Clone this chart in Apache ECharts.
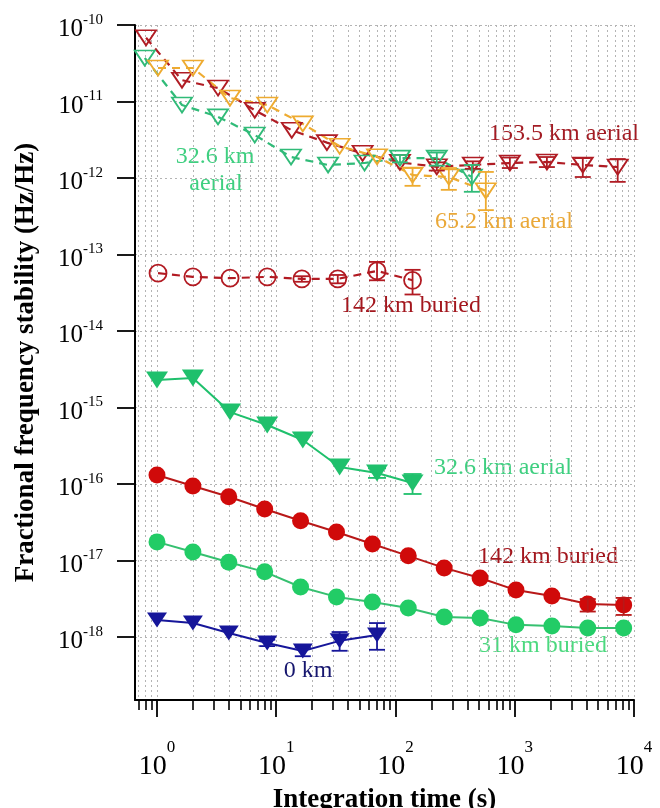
<!DOCTYPE html>
<html><head><meta charset="utf-8">
<script src="https://cdn.jsdelivr.net/npm/echarts@6/dist/echarts.min.js"></script>
<style>html,body{margin:0;padding:0;background:#fff}#c{width:660px;height:808px}</style>
</head><body><div id="c"></div>
<script>
// ---- axis ticks ----
const yTicks = [1e-18, 1e-17, 1e-16, 1e-15, 1e-14, 1e-13, 1e-12, 1e-11, 1e-10];
const xTicks = [1, 10, 100, 1000, 10000];
const xMinorTicks = [0.7, 0.8, 0.9, 2, 3, 4, 5, 6, 7, 8, 9, 20, 30, 40, 50, 60, 70, 80, 90,
  200, 300, 400, 500, 600, 700, 800, 900, 2000, 3000, 4000, 5000, 6000, 7000, 8000, 9000];

// ---- 153.5 km aerial (open red triangles, dashed) ----
const tauAer153 = [0.81, 1.62, 3.25, 6.6, 13.5, 26.6, 53, 109, 222, 445, 910, 1860, 3720, 7300];
const valAer153 = [6.8e-11, 1.9e-11, 1.5e-11, 7.7e-12, 4.2e-12, 2.9e-12, 2.1e-12, 1.6e-12, 1.4e-12, 1.48e-12, 1.57e-12, 1.62e-12, 1.48e-12, 1.39e-12];
const errAer153 = [[222, 1.6e-12, 1.25e-12], [445, 1.65e-12, 1.32e-12], [910, 1.85e-12, 1.35e-12], [1860, 1.88e-12, 1.39e-12], [3720, 1.82e-12, 1.03e-12], [7300, 1.77e-12, 8.9e-13]];

// ---- 32.6 km aerial (open green triangles, dashed) ----
const tauAer32 = [0.79, 1.62, 3.25, 6.6, 13.3, 27.2, 55, 109, 222, 437];
const valAer32 = [3.7e-11, 9.0e-12, 6.3e-12, 3.65e-12, 1.88e-12, 1.48e-12, 1.57e-12, 1.82e-12, 1.82e-12, 1.03e-12];
const errAer32 = [[109, 2.0e-12, 1.6e-12], [222, 2.15e-12, 1.45e-12], [437, 1.48e-12, 6.6e-13]];

// ---- 65.2 km aerial (open orange triangles, dashed) ----
const tauAer65 = [1.02, 2.0, 4.1, 8.4, 16.7, 34, 70, 139, 280, 572];
const valAer65 = [2.74e-11, 2.74e-11, 1.11e-11, 9.0e-12, 5.1e-12, 2.6e-12, 1.9e-12, 1.09e-12, 1.03e-12, 6.8e-13];
const errAer65 = [[139, 1.35e-12, 7.9e-13], [280, 1.35e-12, 7.0e-13], [572, 1.2e-12, 3.8e-13]];

// ---- 142 km buried, other link (open red circles, dashed) ----
const tauBur142o = [1.02, 2.0, 4.1, 8.4, 16.4, 32.8, 70, 139];
const valBur142o = [5.7e-14, 5.1e-14, 4.9e-14, 5.1e-14, 4.8e-14, 4.8e-14, 6.1e-14, 4.6e-14];
const errBur142o = [[16.4, 5.2e-14, 4.4e-14], [32.8, 5.4e-14, 4.2e-14], [70, 8.0e-14, 4.6e-14], [139, 6.3e-14, 3.0e-14]];

// ---- 32.6 km aerial (filled green triangles) ----
const tauAer32f = [1, 2, 4.1, 8.4, 16.7, 34, 70, 139];
const valAer32f = [2.29e-15, 2.43e-15, 8.7e-16, 5.9e-16, 3.76e-16, 1.67e-16, 1.39e-16, 1.03e-16];
const errAer32f = [[70, 1.6e-16, 1.2e-16], [139, 1.35e-16, 7.4e-17]];

// ---- 142 km buried (filled red circles) ----
const tauBur142 = [1, 2, 4, 8, 16, 32, 64, 128, 256, 512, 1024, 2048, 4096, 8192];
const valBur142 = [1.31e-16, 9.4e-17, 6.8e-17, 4.7e-17, 3.3e-17, 2.36e-17, 1.64e-17, 1.15e-17, 8.0e-18, 5.9e-18, 4.1e-18, 3.43e-18, 2.7e-18, 2.62e-18];
const errBur142 = [[4096, 3.13e-18, 2.15e-18], [8192, 3.24e-18, 1.94e-18]];

// ---- 31 km buried (filled green circles) ----
const tauBur31 = [1, 2, 4, 8, 16, 32, 64, 128, 256, 512, 1024, 2048, 4096, 8192];
const valBur31 = [1.75e-17, 1.29e-17, 9.5e-18, 7.1e-18, 4.5e-18, 3.34e-18, 2.87e-18, 2.39e-18, 1.82e-18, 1.77e-18, 1.44e-18, 1.39e-18, 1.31e-18, 1.31e-18];

// ---- 0 km (filled blue triangles) ----
const tau0 = [1, 2, 4, 8.4, 16.7, 34, 70];
const val0 = [1.67e-18, 1.52e-18, 1.13e-18, 8.35e-19, 6.56e-19, 8.9e-19, 1.06e-18];
const err0 = [[8.4, 9.2e-19, 7.6e-19], [16.7, 7.3e-19, 5.6e-19], [34, 1.16e-18, 6.6e-19], [70, 1.52e-18, 6.8e-19]];

const FONT = 'Liberation Serif';
const C = {
  red153: '#b01c24', green32: '#30bb78', orange: '#eeab30', redOpen: '#b21a22',
  greenTri: '#1fc06c', redFill: '#d00a0a', redLine: '#b81818', greenFill: '#22cc66', greenLine: '#36c070', blue: '#16169a'
};

function pairs(xs, ys) { return xs.map((x, i) => [x, ys[i]]); }
function powLabel(v) {
  const e = Math.log10(v);
  if (Math.abs(e - Math.round(e)) > 1e-6) return '';
  return '{b|10}{s|' + Math.round(e) + '}';
}
function errSeries(data, color, cap) {
  return {
    type: 'custom', xAxisIndex: 0, yAxisIndex: 0, data: data, z: 5,
    encode: { x: 0, y: [1, 2] },
    renderItem: function (params, api) {
      const x = api.value(0), hi = api.value(1), lo = api.value(2);
      const p1 = api.coord([x, hi]), p2 = api.coord([x, lo]);
      const st = { stroke: color, lineWidth: 1.8 };
      return { type: 'group', children: [
        { type: 'line', shape: { x1: p1[0], y1: p1[1], x2: p2[0], y2: p2[1] }, style: st },
        { type: 'line', shape: { x1: p1[0] - cap, y1: p1[1], x2: p1[0] + cap, y2: p1[1] }, style: st },
        { type: 'line', shape: { x1: p2[0] - cap, y1: p2[1], x2: p2[0] + cap, y2: p2[1] }, style: st }
      ] };
    }
  };
}
function openLine(xs, ys, color, symbol, size) {
  return {
    type: 'line', data: pairs(xs, ys), symbol: symbol, symbolSize: size,
    symbolRotate: symbol === 'triangle' ? 180 : 0, showSymbol: true,
    lineStyle: { color: color, width: 2.2, type: [8, 6] },
    itemStyle: { color: 'rgba(255,255,255,0)', borderColor: color, borderWidth: 1.8 }, z: 3
  };
}
function fillLine(xs, ys, lineColor, fillColor, symbol, size) {
  return {
    type: 'line', data: pairs(xs, ys), symbol: symbol, symbolSize: size,
    symbolRotate: symbol === 'triangle' ? 180 : 0, showSymbol: true,
    lineStyle: { color: lineColor, width: 2 },
    itemStyle: { color: fillColor, borderColor: fillColor, borderWidth: 0 }, z: 3
  };
}
const gridLine = { show: true, lineStyle: { color: '#b4b4b4', width: 1, type: [2, 3] } };

const option = {
  animation: false,
  backgroundColor: '#fff',
  grid: { left: 135, right: 26, top: 25, bottom: 108, containLabel: false, outerBoundsMode: 'none' },
  xAxis: [{
    type: 'log', logBase: 10, min: 0.654, max: 10000, position: 'bottom',
    name: 'Integration time (s)', nameLocation: 'middle', nameGap: 87,
    nameTextStyle: { fontFamily: FONT, fontWeight: 'bold', fontSize: 27, color: '#000' },
    axisLine: { show: true, onZero: false, lineStyle: { color: '#000', width: 2 } },
    axisTick: { show: true, length: 17, customValues: xTicks, lineStyle: { color: '#000', width: 1.8 } },
    axisLabel: {
      show: true, customValues: xTicks, margin: 39, formatter: powLabel,
      rich: { b: { fontSize: 28, fontFamily: FONT, color: '#000', lineHeight: 28, padding: [28, 0, 0, 0] },
              s: { fontSize: 17, fontFamily: FONT, color: '#000', verticalAlign: 'top', lineHeight: 17 } }
    },
    splitLine: gridLine
  }, {
    type: 'log', logBase: 10, min: 0.654, max: 10000, position: 'bottom', gridIndex: 0,
    axisLine: { show: false },
    axisTick: { show: true, length: 10, customValues: xMinorTicks, lineStyle: { color: '#000', width: 1.6 } },
    axisLabel: { show: false },
    splitLine: gridLine
  }],
  yAxis: {
    type: 'log', logBase: 10, min: 1.5e-19, max: 1e-10,
    name: 'Fractional frequency stability (Hz/Hz)', nameLocation: 'middle', nameGap: 95, nameRotate: 90,
    nameTextStyle: { fontFamily: FONT, fontWeight: 'bold', fontSize: 27, color: '#000' },
    axisLine: { show: true, onZero: false, lineStyle: { color: '#000', width: 2 } },
    axisTick: { show: true, length: 18, customValues: yTicks, lineStyle: { color: '#000', width: 1.8 } },
    axisLabel: {
      show: true, customValues: yTicks, margin: 32, formatter: powLabel,
      rich: { b: { fontSize: 25, fontFamily: FONT, color: '#000', lineHeight: 25, padding: [9, 0, 0, 0] },
              s: { fontSize: 15, fontFamily: FONT, color: '#000', verticalAlign: 'top', lineHeight: 15 } }
    },
    splitLine: gridLine
  },
  series: [
    openLine(tauAer153, valAer153, C.red153, 'triangle', [20, 15]),
    errSeries(errAer153, C.red153, 8),
    openLine(tauAer32, valAer32, C.green32, 'triangle', [20, 15]),
    errSeries(errAer32, C.green32, 8),
    openLine(tauAer65, valAer65, C.orange, 'triangle', [20, 15]),
    errSeries(errAer65, C.orange, 8),
    openLine(tauBur142o, valBur142o, C.redOpen, 'circle', 17),
    errSeries(errBur142o, C.redOpen, 8),
    fillLine(tauAer32f, valAer32f, C.greenTri, C.greenTri, 'triangle', [22, 17]),
    errSeries(errAer32f, C.greenTri, 9),
    fillLine(tauBur142, valBur142, C.redLine, C.redFill, 'circle', 17),
    errSeries(errBur142, C.redLine, 8),
    fillLine(tauBur31, valBur31, C.greenLine, C.greenFill, 'circle', 17),
    fillLine(tau0, val0, C.blue, C.blue, 'triangle', [20, 15]),
    errSeries(err0, C.blue, 8)
  ],
  graphic: [
    { type: 'text', x: 564, y: 134, style: { text: '153.5 km aerial', fill: '#a31c24', font: '24px "Liberation Serif"', align: 'center', verticalAlign: 'middle' } },
    { type: 'text', x: 215, y: 157, style: { text: '32.6 km', fill: '#3fcf80', font: '24px "Liberation Serif"', align: 'center', verticalAlign: 'middle' } },
    { type: 'text', x: 216, y: 184, style: { text: 'aerial', fill: '#3fcf80', font: '24px "Liberation Serif"', align: 'center', verticalAlign: 'middle' } },
    { type: 'text', x: 504, y: 222, style: { text: '65.2 km aerial', fill: '#eaa838', font: '24px "Liberation Serif"', align: 'center', verticalAlign: 'middle' } },
    { type: 'text', x: 411, y: 306, style: { text: '142 km buried', fill: '#a3171e', font: '24px "Liberation Serif"', align: 'center', verticalAlign: 'middle' } },
    { type: 'text', x: 503, y: 468, style: { text: '32.6 km aerial', fill: '#3fcf80', font: '24px "Liberation Serif"', align: 'center', verticalAlign: 'middle' } },
    { type: 'text', x: 548, y: 557, style: { text: '142 km buried', fill: '#a3171e', font: '24px "Liberation Serif"', align: 'center', verticalAlign: 'middle' } },
    { type: 'text', x: 543, y: 646, style: { text: '31 km buried', fill: '#4cd97f', font: '24px "Liberation Serif"', align: 'center', verticalAlign: 'middle' } },
    { type: 'text', x: 308, y: 671, style: { text: '0 km', fill: '#16166e', font: '24px "Liberation Serif"', align: 'center', verticalAlign: 'middle' } }
  ]
};
const chart = echarts.init(document.getElementById('c'), null, { renderer: 'canvas' });
chart.setOption(option);
</script>
</body></html>
